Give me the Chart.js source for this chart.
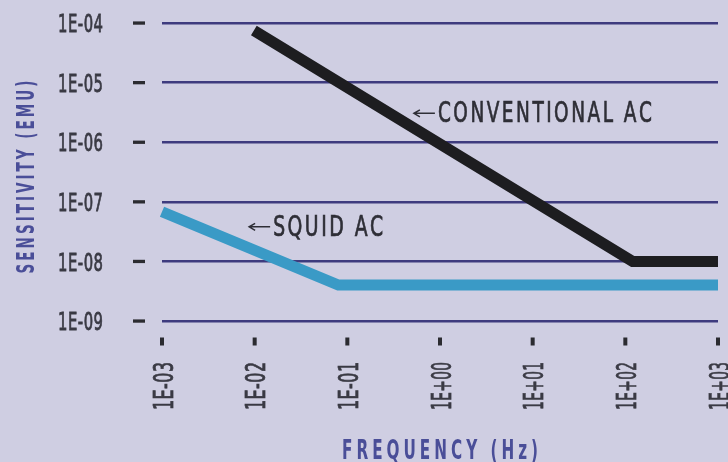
<!DOCTYPE html>
<html>
<head>
<meta charset="utf-8">
<script src="https://cdn.jsdelivr.net/npm/chart.js@4.4.1/dist/chart.umd.min.js"></script>
<style>
  html, body { margin: 0; padding: 0; background: #cfcee2; }
  #chart { display: block; }
</style>
</head>
<body>
<canvas id="chart" width="728" height="462"></canvas>
<script>
// tick values and labels
const xTickValues = [1e-3, 1e-2, 1e-1, 1e0, 1e1, 1e2, 1e3];
const xTickLabels = ["1E-03", "1E-02", "1E-01", "1E+00", "1E+01", "1E+02", "1E+03"];
const yTickValues = [1e-9, 1e-8, 1e-7, 1e-6, 1e-5, 1e-4];
const yTickLabels = ["1E-09", "1E-08", "1E-07", "1E-06", "1E-05", "1E-04"];

// series (frequency in Hz, sensitivity in emu)
const conventionalFreq = [0.0098, 120, 1000];
const conventionalSens = [7.5e-5, 1e-8, 1e-8];
const squidFreq = [0.001, 0.08, 1000];
const squidSens = [6.8e-8, 4e-9, 4e-9];

// labels with arrows, placed in data coordinates
const seriesNames = ["CONVENTIONAL AC", "SQUID AC"];
const labelFreq = [0.51, 0.0085];
const labelSens = [3.05e-6, 3.8e-8];

const FONT = '"Liberation Sans Narrow", "DejaVu Sans Condensed", "Liberation Sans", sans-serif';

function toPoints(xs, ys) {
  return xs.map((x, i) => ({ x: x, y: ys[i] }));
}

// draw text squeezed to a given length, with letter spacing
function drawSpaced(ctx, text, x, y, o) {
  const size = o.cap / 0.716;
  ctx.save();
  ctx.translate(x, y);
  if (o.rotate) ctx.rotate(o.rotate);
  ctx.font = `${o.weight || "normal"} ${size}px ${FONT}`;
  ctx.fillStyle = o.color;
  ctx.strokeStyle = o.color;
  ctx.textBaseline = "alphabetic";
  ctx.textAlign = "left";
  const chars = [...text];
  const widths = chars.map((c) => ctx.measureText(c).width);
  const raw = widths.reduce((a, b) => a + b, 0);
  const gaps = o.spacing * (chars.length - 1);
  const sx = (o.length - gaps) / raw;
  let pos = o.align === "right" ? -o.length : o.align === "center" ? -o.length / 2 : 0;
  chars.forEach((c, i) => {
    ctx.save();
    ctx.translate(pos, o.cap / 2);
    ctx.scale(sx, 1);
    ctx.fillText(c, 0, 0);
    if (o.stroke) {
      ctx.lineWidth = o.stroke;
      ctx.strokeText(c, 0, 0);
    }
    ctx.restore();
    pos += widths[i] * sx + o.spacing;
  });
  ctx.restore();
}

const textPlugin = {
  id: "texts",
  afterDraw(chart) {
    const ctx = chart.ctx;
    const xs = chart.scales.x;
    const ys = chart.scales.y;
    const area = chart.chartArea;

    // y ticks: dash + label
    yTickValues.forEach((v, i) => {
      const y = ys.getPixelForValue(v);
      ctx.fillStyle = "#2b2b30";
      ctx.fillRect(area.left - 29, y - 1.6, 12, 3.3);
      drawSpaced(ctx, yTickLabels[i], area.left - 59, y, {
        cap: 18.3, length: 45, spacing: 0.5, align: "right", color: "#3a3a44", stroke: 0.8,
      });
    });

    // x ticks: dash + rotated label
    xTickValues.forEach((v, i) => {
      const x = xs.getPixelForValue(v);
      ctx.fillStyle = "#2b2b30";
      ctx.fillRect(x - 2, area.bottom + 16.5, 4, 8);
      drawSpaced(ctx, xTickLabels[i], x + 1, area.bottom + 41, {
        cap: 19, length: 48, spacing: 0.5, align: "right", rotate: -Math.PI / 2,
        color: "#3a3a44", stroke: 0.8,
      });
    });

    // axis titles
    drawSpaced(ctx, "SENSITIVITY (EMU)", 25, 177, {
      cap: 17.5, length: 193, spacing: 3, align: "center", rotate: -Math.PI / 2,
      color: "#4a4e98", weight: "bold",
    });
    drawSpaced(ctx, "FREQUENCY (Hz)", 440, 449, {
      cap: 19, length: 196, spacing: 4, align: "center", color: "#4a4e98", weight: "bold",
    });

    // series labels with arrows
    const lengths = [214, 110];
    seriesNames.forEach((name, i) => {
      const px = xs.getPixelForValue(labelFreq[i]);
      const py = ys.getPixelForValue(labelSens[i]);
      ctx.save();
      ctx.strokeStyle = "#2e2e36";
      ctx.lineWidth = 1.5;
      ctx.beginPath();
      ctx.moveTo(px + 1, py);
      ctx.lineTo(px + 22, py);
      ctx.moveTo(px + 7, py - 3.5);
      ctx.lineTo(px + 1, py);
      ctx.lineTo(px + 7, py + 3.5);
      ctx.stroke();
      ctx.restore();
      drawSpaced(ctx, name, px + 25, py - 1.5, {
        cap: 20.5, length: lengths[i], spacing: 2.5, align: "left", color: "#2e2e36", stroke: 0.7,
      });
    });
  },
};

new Chart(document.getElementById("chart"), {
  type: "line",
  data: {
    datasets: [
      {
        label: seriesNames[0],
        data: toPoints(conventionalFreq, conventionalSens),
        borderColor: "#1d1d20",
        borderWidth: 11,
        pointRadius: 0,
        borderCapStyle: "butt",
        borderJoinStyle: "miter",
        tension: 0,
        clip: false,
      },
      {
        label: seriesNames[1],
        data: toPoints(squidFreq, squidSens),
        borderColor: "#3a9ac6",
        borderWidth: 11,
        pointRadius: 0,
        borderCapStyle: "butt",
        borderJoinStyle: "miter",
        tension: 0,
        clip: false,
      },
    ],
  },
  options: {
    responsive: false,
    animation: false,
    layout: { padding: { top: 23, right: 10, left: 0, bottom: 0 } },
    plugins: { legend: { display: false }, tooltip: { enabled: false } },
    scales: {
      x: {
        type: "logarithmic",
        min: 1e-3,
        max: 1e3,
        afterBuildTicks: (s) => { s.ticks = xTickValues.map((v) => ({ value: v })); },
        afterFit: (s) => { s.height = 141; },
        grid: { display: false },
        border: { display: false },
        ticks: { display: false },
      },
      y: {
        type: "logarithmic",
        min: 1e-9,
        max: 1e-4,
        afterBuildTicks: (s) => { s.ticks = yTickValues.map((v) => ({ value: v })); },
        afterFit: (s) => { s.width = 162; },
        grid: { color: "#3e3b7e", lineWidth: 2.5, drawTicks: false },
        border: { display: false },
        ticks: { display: false },
      },
    },
  },
  plugins: [textPlugin],
});
</script>
</body>
</html>
